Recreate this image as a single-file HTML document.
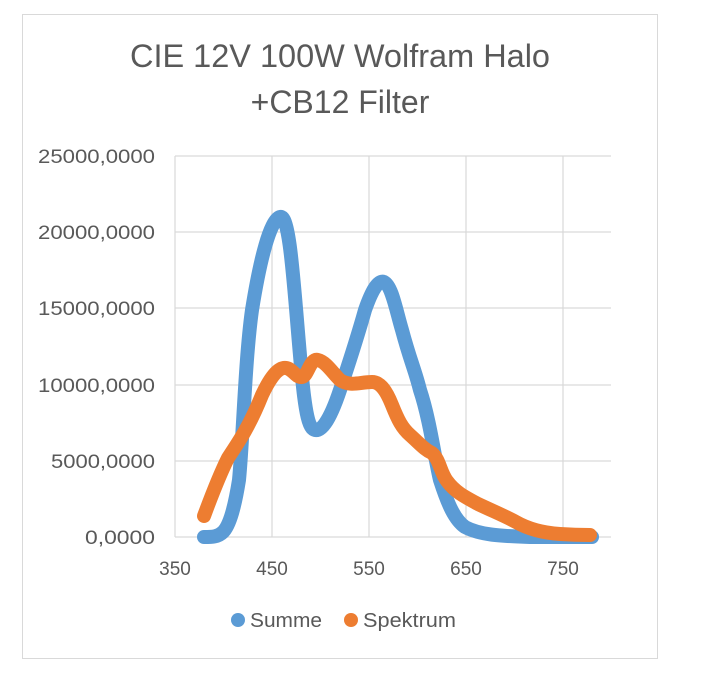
<!DOCTYPE html>
<html><head><style>
body{margin:0;background:#fff;}
svg text{font-family:"Liberation Sans",sans-serif;fill:#595959;}
</style></head><body>
<svg width="712" height="690" viewBox="0 0 712 690" xmlns="http://www.w3.org/2000/svg">
<rect x="22.5" y="14.5" width="635" height="644" fill="#fff" stroke="#d9d9d9"/>
<text x="340" y="67" font-size="32" text-anchor="middle" textLength="420" lengthAdjust="spacingAndGlyphs">CIE 12V 100W Wolfram Halo</text>
<text x="340" y="113" font-size="32" text-anchor="middle">+CB12 Filter</text>
<g stroke="#d9d9d9" stroke-width="1.2">
<line x1="175" y1="156" x2="611" y2="156"/>
<line x1="175" y1="232" x2="611" y2="232"/>
<line x1="175" y1="308" x2="611" y2="308"/>
<line x1="175" y1="385" x2="611" y2="385"/>
<line x1="175" y1="461" x2="611" y2="461"/>
<line x1="175" y1="537" x2="611" y2="537"/>
<line x1="175" y1="156" x2="175" y2="537"/>
<line x1="272" y1="156" x2="272" y2="537"/>
<line x1="369" y1="156" x2="369" y2="537"/>
<line x1="466" y1="156" x2="466" y2="537"/>
<line x1="563" y1="156" x2="563" y2="537"/>
</g>
<g font-size="19" text-anchor="end">
<text x="155" y="163" textLength="117" lengthAdjust="spacingAndGlyphs">25000,0000</text>
<text x="155" y="239" textLength="117" lengthAdjust="spacingAndGlyphs">20000,0000</text>
<text x="155" y="315" textLength="117" lengthAdjust="spacingAndGlyphs">15000,0000</text>
<text x="155" y="392" textLength="117" lengthAdjust="spacingAndGlyphs">10000,0000</text>
<text x="155" y="468" textLength="104" lengthAdjust="spacingAndGlyphs">5000,0000</text>
<text x="155" y="544" textLength="70" lengthAdjust="spacingAndGlyphs">0,0000</text>
</g>
<g font-size="19" text-anchor="middle">
<text x="175" y="575">350</text>
<text x="272" y="575">450</text>
<text x="369" y="575">550</text>
<text x="466" y="575">650</text>
<text x="563" y="575">750</text>
</g>
<path fill="none" stroke="#5b9bd5" stroke-width="14" stroke-linecap="round" stroke-linejoin="round"
d="M204,537 C212,537 218,537 223,532 C230,525 235,505 239,480 C243,440 245,360 252,310 C260,260 270,220 280,217 C288,214 292,260 297,320 C302,380 305,420 312,428 C320,436 330,420 340,390 C350,360 358,335 365,310 C372,290 378,280 384,282 C392,286 396,310 402,330 C410,360 415,370 420,390 C430,420 435,460 440,480 C448,505 455,520 465,527 C480,535 500,536 530,537 L592,537"/>
<path fill="none" stroke="#ed7d31" stroke-width="14" stroke-linecap="round" stroke-linejoin="round"
d="M204,516 C210,500 218,478 228,458 C240,440 250,425 262,395 C270,378 278,367 286,368 C293,369 296,378 302,377 C308,376 310,358 318,360 C326,362 332,372 340,380 C350,387 360,382 372,382 C380,382 386,390 392,405 C398,420 402,428 410,435 C420,444 425,450 432,453 C440,460 440,472 447,481 C455,492 465,497 478,504 C495,512 505,516 516,522 C530,530 545,533 560,534 C575,535 580,535 590,535"/>
<circle cx="238" cy="620" r="7" fill="#5b9bd5"/>
<text x="250" y="627" font-size="20" textLength="72" lengthAdjust="spacingAndGlyphs">Summe</text>
<circle cx="351" cy="620" r="7" fill="#ed7d31"/>
<text x="363" y="627" font-size="20" textLength="93" lengthAdjust="spacingAndGlyphs">Spektrum</text>
</svg>
</body></html>
